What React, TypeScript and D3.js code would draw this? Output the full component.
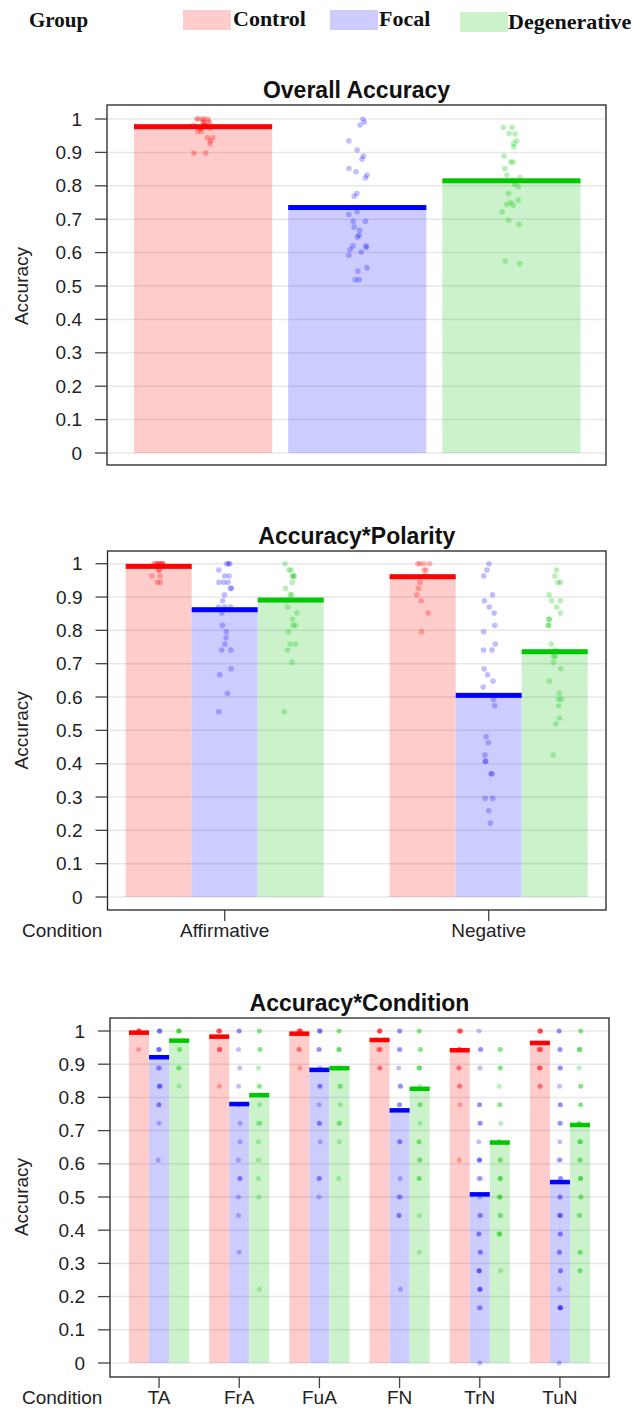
import React from 'react';
import * as d3 from 'd3';

const groups = ['Control', 'Focal', 'Degenerative'];
const fillColors = ['#ffcccc', '#ccccff', '#ccf2cc'];
const meanColors = ['#ff0000', '#0000ff', '#00c800'];
const dotColors = ['rgba(255,0,0,0.28)', 'rgba(0,0,255,0.25)', 'rgba(0,200,0,0.28)'];
const yTickLabels = ['0', '0.1', '0.2', '0.3', '0.4', '0.5', '0.6', '0.7', '0.8', '0.9', '1'];

// panel 1: overall accuracy
const overallMeans = [0.977, 0.735, 0.815];
const overallControl = [1, 1, 1, 1, 1, 0.991, 0.991, 0.991, 0.991, 0.981, 0.981, 0.981, 0.981, 0.972, 0.972, 0.972, 0.963, 0.963, 0.944, 0.944, 0.935, 0.926, 0.898, 0.898];
const overallFocal = [1.0, 0.99, 0.982, 0.935, 0.907, 0.889, 0.88, 0.852, 0.842, 0.832, 0.824, 0.777, 0.769, 0.722, 0.714, 0.694, 0.694, 0.677, 0.667, 0.652, 0.647, 0.62, 0.62, 0.615, 0.609, 0.602, 0.592, 0.555, 0.545, 0.519, 0.519];
const overallDegen = [0.975, 0.975, 0.957, 0.955, 0.935, 0.927, 0.917, 0.889, 0.871, 0.871, 0.852, 0.832, 0.825, 0.817, 0.805, 0.797, 0.777, 0.757, 0.75, 0.744, 0.742, 0.722, 0.697, 0.685, 0.575, 0.567];

// panel 2: polarity
const polarities = ['Affirmative', 'Negative'];
const polarityMeans = [[0.992, 0.862, 0.891], [0.961, 0.605, 0.736]];
const affControl = [1, 1, 1, 1, 1, 1, 1, 1, 0.981, 0.981, 0.963, 0.963, 0.944, 0.944];
const affFocal = [1, 1, 1, 0.981, 0.963, 0.963, 0.944, 0.944, 0.944, 0.926, 0.926, 0.907, 0.889, 0.87, 0.87, 0.87, 0.852, 0.815, 0.796, 0.778, 0.759, 0.741, 0.741, 0.685, 0.667, 0.611, 0.556];
const affDegen = [1, 0.981, 0.981, 0.963, 0.963, 0.963, 0.944, 0.926, 0.907, 0.907, 0.889, 0.87, 0.852, 0.833, 0.815, 0.815, 0.796, 0.759, 0.759, 0.741, 0.704, 0.556];
const negControl = [1, 1, 1, 1, 0.981, 0.981, 0.963, 0.963, 0.944, 0.926, 0.907, 0.889, 0.852, 0.796];
const negFocal = [1, 0.981, 0.963, 0.907, 0.889, 0.87, 0.852, 0.815, 0.796, 0.759, 0.741, 0.741, 0.685, 0.667, 0.648, 0.63, 0.593, 0.574, 0.481, 0.463, 0.426, 0.407, 0.407, 0.37, 0.37, 0.296, 0.296, 0.259, 0.222];
const negDegen = [0.981, 0.963, 0.944, 0.944, 0.907, 0.889, 0.889, 0.87, 0.852, 0.833, 0.833, 0.815, 0.815, 0.759, 0.741, 0.722, 0.722, 0.704, 0.685, 0.648, 0.611, 0.593, 0.593, 0.574, 0.537, 0.519, 0.426];

// panel 3: condition, scores out of 18 items
const ITEMS = 18;
const conditions = ['TA', 'FrA', 'FuA', 'FN', 'TrN', 'TuN'];
const conditionMeans = [
  [0.995, 0.921, 0.971],
  [0.983, 0.78, 0.807],
  [0.992, 0.883, 0.888],
  [0.973, 0.761, 0.826],
  [0.942, 0.508, 0.664],
  [0.964, 0.545, 0.717],
];
const taScores = [
  [18, 18, 18, 18, 17],
  [18, 18, 18, 17, 17, 17, 16, 16, 15, 15, 15, 14, 14, 13, 11],
  [18, 18, 18, 18, 17, 17, 16, 16, 15],
];
const fraScores = [
  [18, 18, 18, 18, 17, 17, 17, 15],
  [18, 18, 17, 16, 15, 14, 13, 12, 11, 10, 10, 9, 8, 6],
  [18, 18, 17, 17, 16, 15, 15, 14, 13, 13, 12, 11, 10, 9, 4],
];
const fuaScores = [
  [18, 18, 18, 18, 18, 17, 17, 16],
  [18, 18, 18, 17, 17, 16, 15, 15, 14, 13, 13, 12, 10, 10, 9],
  [18, 18, 17, 17, 17, 16, 16, 15, 15, 14, 13, 13, 12, 10],
];
const fnScores = [
  [18, 18, 18, 18, 17, 17, 17, 16, 16],
  [18, 18, 17, 17, 16, 15, 15, 14, 14, 12, 12, 10, 9, 9, 8, 8, 4],
  [18, 18, 17, 17, 16, 16, 16, 15, 14, 14, 13, 12, 12, 11, 11, 10, 10, 8, 6],
];
const trnScores = [
  [18, 18, 18, 18, 17, 17, 17, 16, 16, 15, 15, 14, 11],
  [18, 17, 17, 16, 14, 14, 13, 13, 12, 11, 11, 11, 10, 10, 9, 8, 8, 7, 7, 6, 6, 5, 5, 5, 4, 4, 4, 3, 3, 0],
  [17, 17, 16, 16, 15, 14, 14, 13, 12, 12, 11, 11, 10, 10, 10, 9, 9, 9, 8, 8, 7, 7, 7, 5],
];
const tunScores = [
  [18, 18, 18, 18, 17, 17, 17, 17, 16, 16, 16, 15, 15],
  [18, 18, 17, 17, 16, 16, 15, 14, 14, 13, 13, 12, 11, 11, 10, 10, 9, 9, 8, 8, 8, 7, 7, 6, 6, 5, 5, 4, 3, 3, 3, 3, 0],
  [18, 18, 17, 17, 17, 16, 15, 15, 14, 14, 13, 13, 12, 12, 12, 11, 11, 10, 10, 10, 9, 9, 8, 8, 6, 6, 5, 5],
];
const conditionScores = [taScores, fraScores, fuaScores, fnScores, trnScores, tunScores];

const sans = 'Liberation Sans, Arial, Helvetica, sans-serif';
const serif = 'Liberation Serif, Times New Roman, serif';

// deterministic hash-based spread in [-1, 1] so overlapping dots stay visible
const spread = (i: number) => {
  const s = Math.sin(i * 12.9898 + 78.233) * 43758.5453;
  return (s - Math.floor(s)) * 2 - 1;
};

type PanelProps = {
  title: string;
  box: { x0: number; x1: number; y0: number; y1: number };
  yRange: [number, number];
  barRange: [number, number];
  categories: string[];
  means: number[][];
  points: number[][][];
  outerPad: number;
  innerPad: number;
  dotR: number;
  jitter: number;
  lineH: number;
  xAxis: boolean;
};

function Panel(p: PanelProps) {
  const { box } = p;
  const y = d3.scaleLinear().domain([0, 1]).range(p.yRange);
  const outer = d3.scaleBand<string>().domain(p.categories).range(p.barRange).paddingInner(p.outerPad).paddingOuter(0);
  const inner = d3.scaleBand<string>().domain(groups).range([0, outer.bandwidth()]).paddingInner(p.innerPad).paddingOuter(0);
  const bw = inner.bandwidth();
  const midY = (p.yRange[0] + p.yRange[1]) / 2;

  return (
    <g>
      <text x={(box.x0 + box.x1) / 2} y={box.y0 - 7} textAnchor="middle" fontFamily={sans} fontWeight="bold" fontSize={23} fill="#111">
        {p.title}
      </text>
      {p.categories.map((c, ci) =>
        groups.map((g, gi) => (
          <rect key={`b${c}${g}`} x={outer(c)! + inner(g)!} y={y(p.means[ci][gi])} width={bw} height={y(0) - y(p.means[ci][gi])} fill={fillColors[gi]} />
        ))
      )}
      {yTickLabels.map((t) => (
        <line key={`g${t}`} x1={box.x0} x2={box.x1} y1={y(+t)} y2={y(+t)} stroke="#000" strokeOpacity={0.09} strokeWidth={1.5} />
      ))}
      {p.categories.map((c, ci) =>
        groups.map((g, gi) =>
          p.points[ci][gi].map((v, i) => (
            <circle key={`p${c}${g}${i}`} cx={outer(c)! + inner(g)! + bw / 2 + spread(i + gi * 40 + ci * 120) * p.jitter} cy={y(v)} r={p.dotR} fill={dotColors[gi]} />
          ))
        )
      )}
      {p.categories.map((c, ci) =>
        groups.map((g, gi) => (
          <rect key={`m${c}${g}`} x={outer(c)! + inner(g)!} y={y(p.means[ci][gi]) - p.lineH / 2} width={bw} height={p.lineH} fill={meanColors[gi]} />
        ))
      )}
      <rect x={box.x0} y={box.y0} width={box.x1 - box.x0} height={box.y1 - box.y0} fill="none" stroke="#222" strokeWidth={1.3} />
      {yTickLabels.map((t) => (
        <g key={`t${t}`}>
          <line x1={box.x0 - 12} x2={box.x0} y1={y(+t)} y2={y(+t)} stroke="#444" strokeWidth={1.3} />
          <text x={box.x0 - 25} y={y(+t)} dy="0.35em" textAnchor="end" fontFamily={sans} fontSize={19} fill="#222">
            {t}
          </text>
        </g>
      ))}
      <text transform={`translate(28,${midY}) rotate(-90)`} textAnchor="middle" fontFamily={sans} fontSize={19} fill="#222">
        Accuracy
      </text>
      {p.xAxis && (
        <g>
          {p.categories.map((c) => {
            const cx = outer(c)! + outer.bandwidth() / 2;
            return (
              <g key={`x${c}`}>
                <line x1={cx} x2={cx} y1={box.y1} y2={box.y1 + 11} stroke="#444" strokeWidth={1.3} />
                <text x={cx} y={box.y1 + 27} textAnchor="middle" fontFamily={sans} fontSize={19} fill="#222">
                  {c}
                </text>
              </g>
            );
          })}
          <text x={22} y={box.y1 + 27} fontFamily={sans} fontSize={19} fill="#222">
            Condition
          </text>
        </g>
      )}
    </g>
  );
}

export default function App() {
  const legend = [
    { sw: [183, 10], tx: 233, ty: 26 },
    { sw: [330, 10], tx: 379, ty: 26 },
    { sw: [460, 12], tx: 508, ty: 29 },
  ];
  return (
    <svg width={641} height={1411} style={{ position: 'absolute', left: 0, top: 0, background: '#fff' }}>
      <text x={29} y={27} fontFamily={serif} fontWeight="bold" fontSize={21} fill="#111">
        Group
      </text>
      {groups.map((g, i) => (
        <g key={g}>
          <rect x={legend[i].sw[0]} y={legend[i].sw[1]} width={48} height={20} fill={fillColors[i]} />
          <text x={legend[i].tx} y={legend[i].ty} fontFamily={serif} fontWeight="bold" fontSize={22} fill="#111">
            {g}
          </text>
        </g>
      ))}
      <Panel
        title="Overall Accuracy"
        box={{ x0: 107, x1: 606, y0: 105, y1: 465 }}
        yRange={[453, 119]}
        barRange={[134, 580.5]}
        categories={['all']}
        means={[overallMeans]}
        points={[[overallControl, overallFocal, overallDegen]]}
        outerPad={0}
        innerPad={0.104}
        dotR={2.8}
        jitter={10}
        lineH={5}
        xAxis={false}
      />
      <Panel
        title="Accuracy*Polarity"
        box={{ x0: 107.5, x1: 606, y0: 551, y1: 910 }}
        yRange={[897, 563.7]}
        barRange={[125.7, 587.7]}
        categories={polarities}
        means={polarityMeans}
        points={[
          [affControl, affFocal, affDegen],
          [negControl, negFocal, negDegen],
        ]}
        outerPad={0.25}
        innerPad={0}
        dotR={2.8}
        jitter={7}
        lineH={5}
        xAxis={true}
      />
      <Panel
        title="Accuracy*Condition"
        box={{ x0: 110, x1: 609, y0: 1018, y1: 1377 }}
        yRange={[1363, 1031]}
        barRange={[129, 590]}
        categories={conditions}
        means={conditionMeans}
        points={conditionScores.map((c) => c.map((s) => s.map((v) => v / ITEMS)))}
        outerPad={0.25}
        innerPad={0}
        dotR={2.5}
        jitter={1}
        lineH={4.5}
        xAxis={true}
      />
    </svg>
  );
}
